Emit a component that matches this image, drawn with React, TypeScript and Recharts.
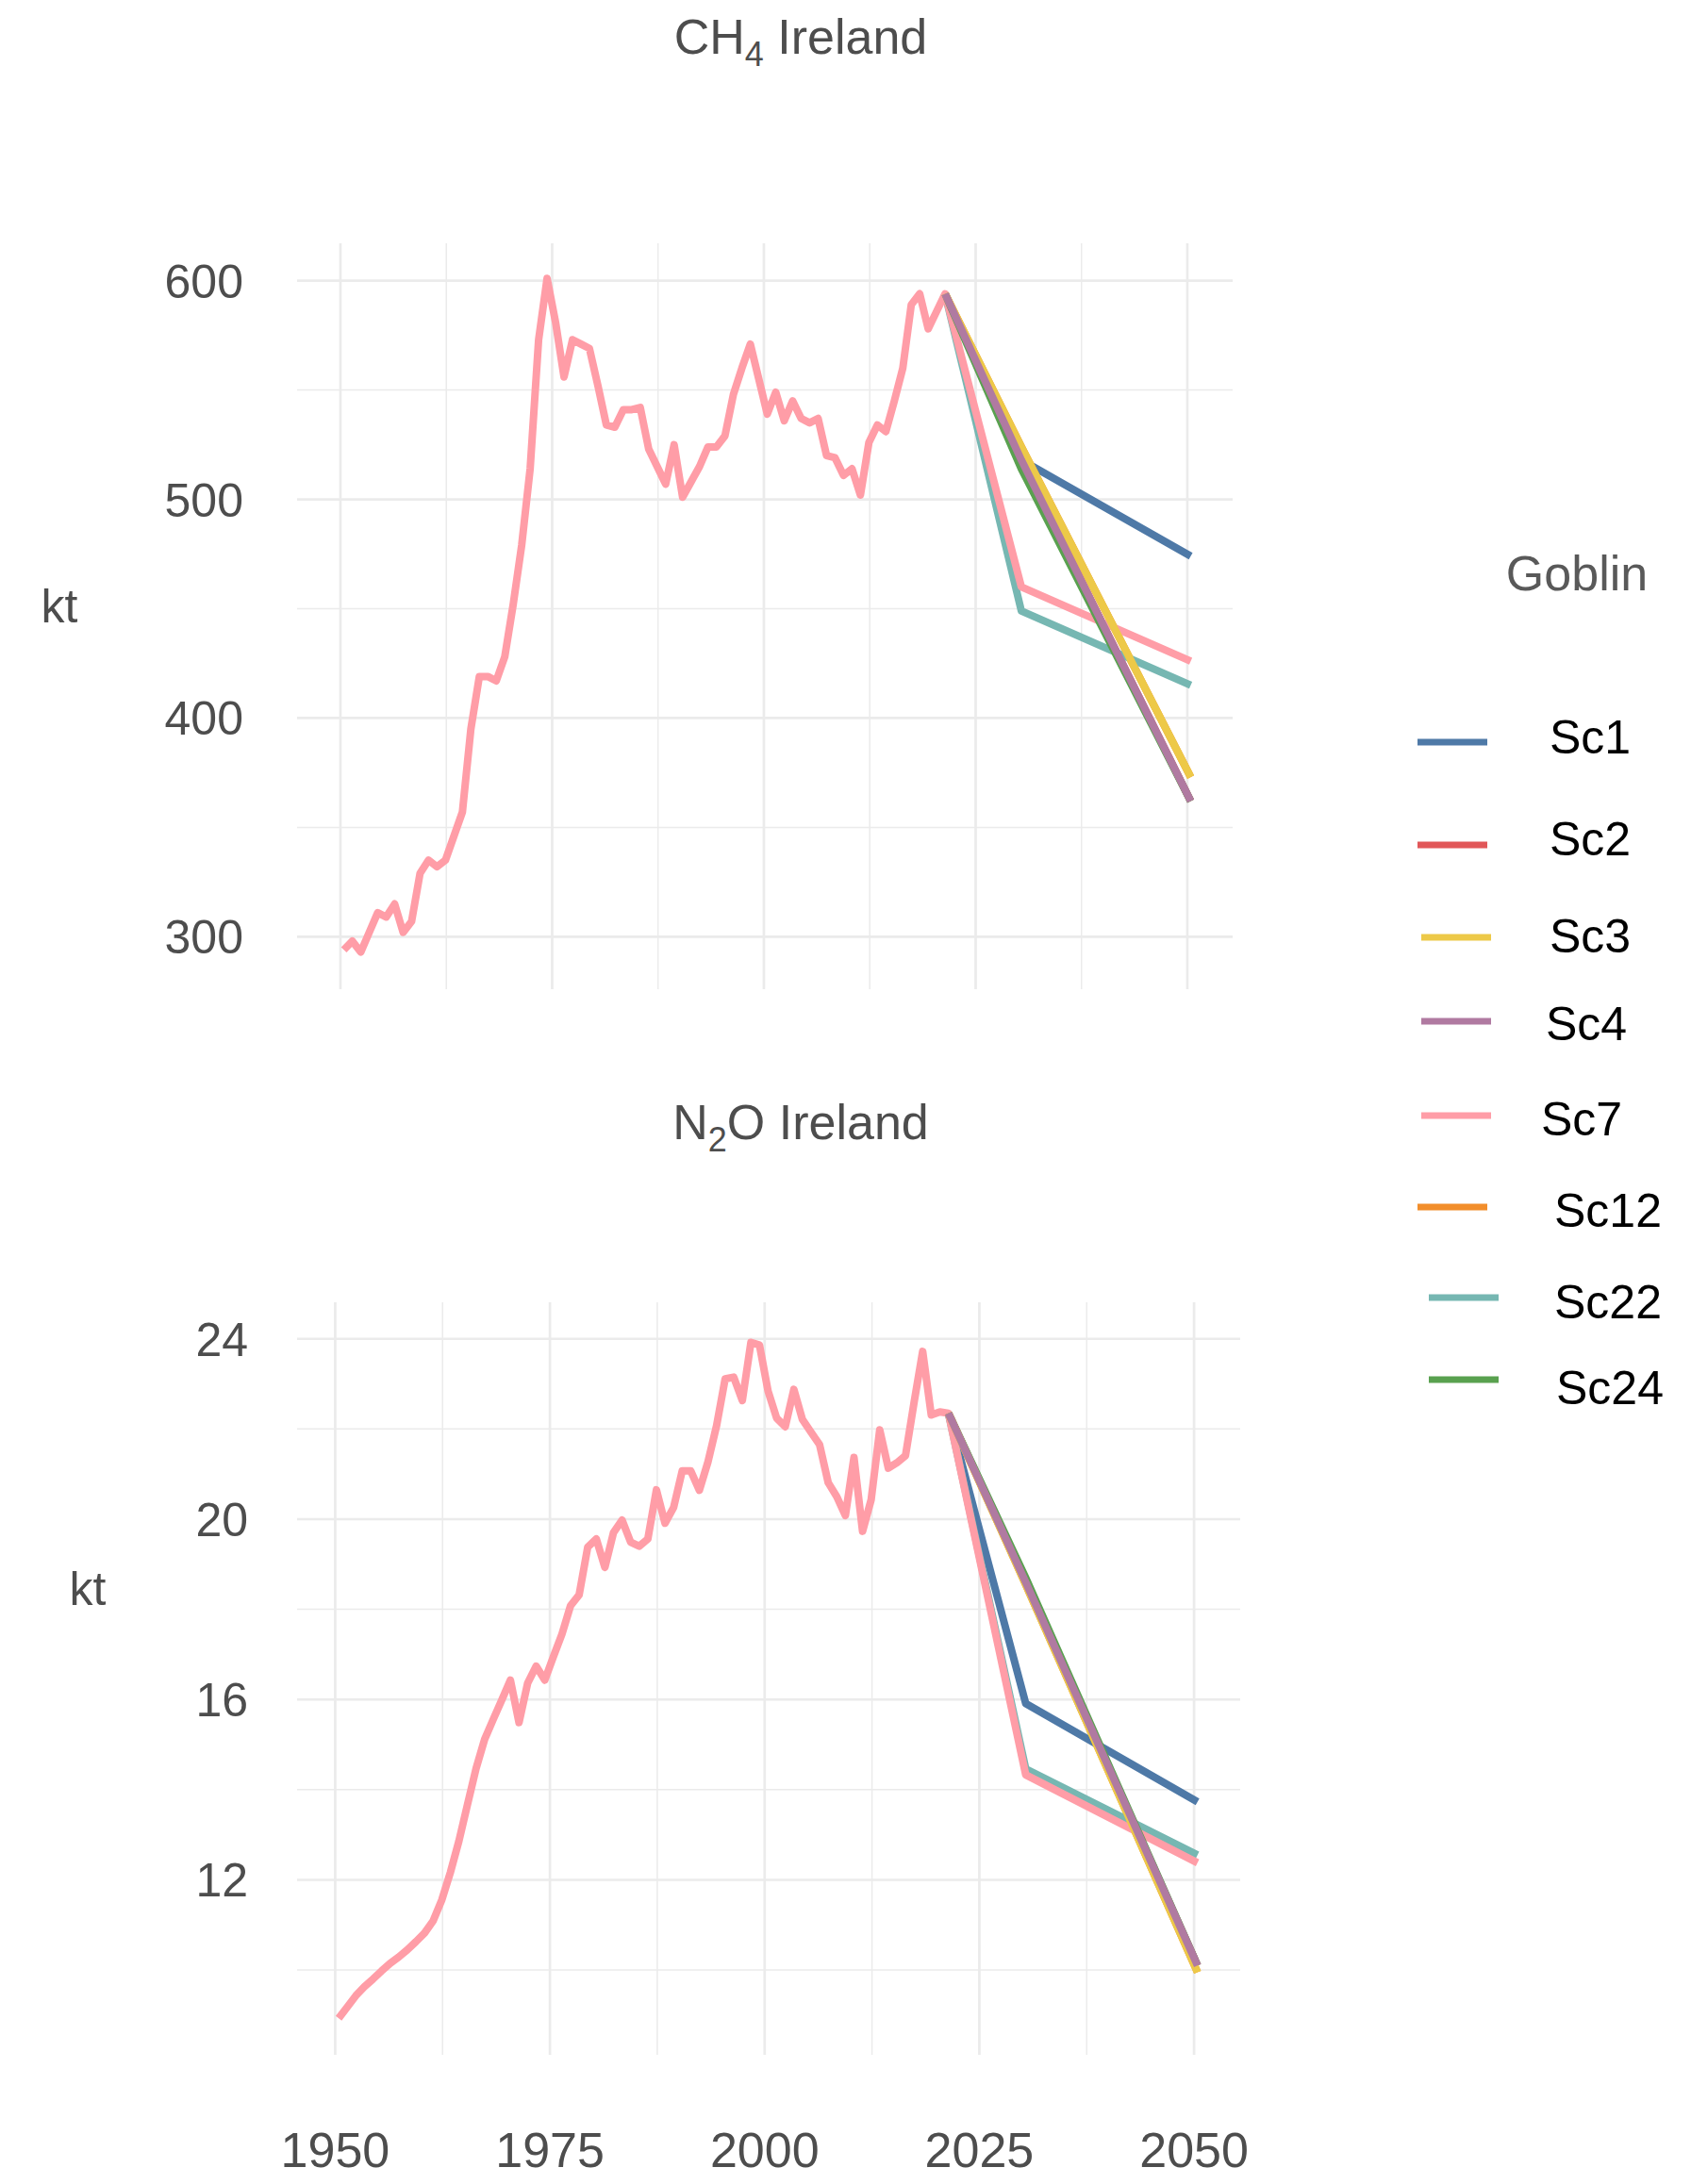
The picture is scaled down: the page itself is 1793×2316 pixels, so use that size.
import React from 'react'
import { LineChart, Line, XAxis, YAxis, CartesianGrid } from 'recharts'

// annual inventory 1950-2021, then scenario points in 2030 and 2050
const firstYear = 1950
const projYears = [2030, 2050]
// points sit at mid-year on the time axis
const MID_YEAR = 0.4

const scenarios = ['Sc1', 'Sc2', 'Sc3', 'Sc4', 'Sc7', 'Sc12', 'Sc22', 'Sc24']
const colors: Record<string, string> = {
  Sc1: '#4E79A7', Sc2: '#E15759', Sc3: '#EDC948', Sc4: '#B07AA1',
  Sc7: '#FF9DA7', Sc12: '#F28E2B', Sc22: '#76B7B2', Sc24: '#59A14F',
}
// drawing order (last one on top)
const drawOrder = ['Sc1', 'Sc2', 'Sc12', 'Sc22', 'Sc7', 'Sc24', 'Sc3', 'Sc4']

const ch4Hist = [
  294, 298, 293, 302, 311, 309, 315, 302, 307, 329,
  335, 332, 335, 346, 357, 395, 419, 419, 417, 428,
  452, 479, 514, 573, 601, 581, 556, 573, 571, 569,
  552, 534, 533, 541, 541, 542, 523, 515, 507, 525,
  501, 508, 515, 524, 524, 529, 548, 560, 571, 555,
  539, 549, 536, 545, 537, 535, 537, 520, 519, 511,
  514, 502, 526, 534, 531, 545, 560, 589, 594, 578,
  586, 594,
]
const ch4Proj: Record<string, number[]> = {
  Sc1: [518, 474], Sc2: [518, 362], Sc3: [524, 373], Sc4: [518, 362],
  Sc7: [460, 426], Sc12: [524, 373], Sc22: [449, 415], Sc24: [514, 362],
}

const n2oHist = [
  8.93, 9.18, 9.43, 9.63, 9.8, 9.98, 10.15, 10.29, 10.45, 10.63,
  10.82, 11.09, 11.55, 12.16, 12.86, 13.67, 14.47, 15.12, 15.56, 15.99,
  16.43, 15.49, 16.36, 16.74, 16.43, 16.95, 17.45, 18.08, 18.32, 19.38,
  19.56, 18.93, 19.7, 19.98, 19.49, 19.4, 19.56, 20.65, 19.91, 20.26,
  21.07, 21.07, 20.64, 21.27, 22.07, 23.11, 23.15, 22.63, 23.92, 23.86,
  22.84, 22.24, 22.05, 22.88, 22.21, 21.93, 21.65, 20.81, 20.5, 20.08,
  21.37, 19.73, 20.43, 21.98, 21.13, 21.25, 21.41, 22.59, 23.72, 22.31,
  22.38, 22.35,
]
const n2oProj: Record<string, number[]> = {
  Sc1: [15.91, 13.73], Sc2: [18.6, 10.1], Sc3: [18.55, 9.95], Sc4: [18.6, 10.1],
  Sc7: [14.33, 12.38], Sc12: [18.55, 9.95], Sc22: [14.46, 12.55], Sc24: [18.7, 10.1],
}

const xTicks = [1950, 1975, 2000, 2025, 2050]
const xMinor = [1962.5, 1987.5, 2012.5, 2037.5]
const ch4Ticks = [300, 400, 500, 600]
const ch4Minor = [350, 450, 550]
const n2oTicks = [12, 16, 20, 24]
const n2oMinor = [10, 14, 18, 22]

const FONT = '"Liberation Sans", Arial, Helvetica, sans-serif'
const GRID = '#EBEBEB'
const TXT = '#4D4D4D'

function buildRows(hist: number[], proj: Record<string, number[]>) {
  const rows: Record<string, number | null>[] = hist.map((v, i) => ({ t: firstYear + i + MID_YEAR, Sc7: v }))
  const last = rows[rows.length - 1]
  scenarios.forEach(s => { last[s] = hist[hist.length - 1] })
  projYears.forEach((y, j) => {
    const r: Record<string, number | null> = { t: y + MID_YEAR }
    scenarios.forEach(s => { r[s] = proj[s][j] })
    rows.push(r)
  })
  return rows
}

const ch4Rows = buildRows(ch4Hist, ch4Proj)
const n2oRows = buildRows(n2oHist, n2oProj)

const legendRows = [
  { s: 'Sc1', ky: 787, ty: 799, kx: 1503, tx: 1643 },
  { s: 'Sc2', ky: 896, ty: 907, kx: 1503, tx: 1643 },
  { s: 'Sc3', ky: 994, ty: 1010, kx: 1507, tx: 1643 },
  { s: 'Sc4', ky: 1083, ty: 1103, kx: 1507, tx: 1639 },
  { s: 'Sc7', ky: 1183, ty: 1204, kx: 1507, tx: 1634 },
  { s: 'Sc12', ky: 1280, ty: 1301, kx: 1503, tx: 1648 },
  { s: 'Sc22', ky: 1376, ty: 1398, kx: 1515, tx: 1648 },
  { s: 'Sc24', ky: 1463, ty: 1489, kx: 1515, tx: 1650 },
]

function Panel(props: any) {
  const { rows, xDomain, yDomain, yTicks, yMinor, top, width, height, margin, xHeight, showX, yLabelShift } = props
  const yTick = ({ x, y, payload }: any) => (
    <text x={x - yLabelShift} y={y} dy="0.36em" textAnchor="end" fill={TXT} fontSize={50} fontFamily={FONT}>
      {payload.value}
    </text>
  )
  const xTick = ({ x, y, payload }: any) =>
    showX ? (
      <text x={x} y={y + 119} textAnchor="middle" fill={TXT} fontSize={52} fontFamily={FONT}>
        {payload.value}
      </text>
    ) : <g />
  return (
    <div style={{ position: 'absolute', left: 0, top }}>
      <LineChart width={width} height={height} data={rows} margin={margin}>
        <CartesianGrid stroke={GRID} strokeWidth={1.5} horizontalValues={yMinor} verticalValues={xMinor} />
        <CartesianGrid stroke={GRID} strokeWidth={2.7} horizontalValues={yTicks} verticalValues={xTicks} />
        <XAxis type="number" dataKey="t" domain={xDomain} ticks={xTicks} allowDataOverflow
          axisLine={false} tickLine={false} tickSize={0} tickMargin={0} height={xHeight}
          tick={xTick} />
        <YAxis type="number" domain={yDomain} ticks={yTicks} allowDataOverflow
          axisLine={false} tickLine={false} tickSize={0} tickMargin={0} width={315} tick={yTick} />
        {drawOrder.map(s => (
          <Line key={s} type="linear" dataKey={s} stroke={colors[s]} strokeWidth={8}
            strokeLinejoin="round" dot={false} activeDot={false} isAnimationActive={false} />
        ))}
      </LineChart>
    </div>
  )
}

export default function App() {
  return (
    <div style={{ position: 'absolute', left: 0, top: 0, width: 1793, height: 2316, background: '#fff', fontFamily: FONT }}>
      <Panel rows={ch4Rows} xDomain={[1944.88, 2055.35]} yDomain={[276.0, 617.1]}
        yTicks={ch4Ticks} yMinor={ch4Minor} top={0} width={1320} height={1100}
        margin={{ top: 258, right: 13, bottom: 31, left: 0 }} xHeight={20} showX={false} yLabelShift={57} />
      <Panel rows={n2oRows} xDomain={[1945.56, 2055.37]} yDomain={[8.12, 24.81]}
        yTicks={n2oTicks} yMinor={n2oMinor} top={1100} width={1380} height={1216}
        margin={{ top: 281, right: 65, bottom: 0, left: 0 }} xHeight={137} showX={true} yLabelShift={52} />
      <svg width={1793} height={2316} style={{ position: 'absolute', left: 0, top: 0, pointerEvents: 'none' }}>
        <text x={849} y={57} textAnchor="middle" fontSize={52} fill={TXT} fontFamily={FONT}>
          CH<tspan fontSize={36} dy={13}>4</tspan><tspan dy={-13}> Ireland</tspan>
        </text>
        <text x={849} y={1208} textAnchor="middle" fontSize={52} fill={TXT} fontFamily={FONT}>
          N<tspan fontSize={36} dy={13}>2</tspan><tspan dy={-13}>O Ireland</tspan>
        </text>
        <text x={63} y={660} textAnchor="middle" fontSize={50} fill={TXT} fontFamily={FONT}>kt</text>
        <text x={93} y={1702} textAnchor="middle" fontSize={50} fill={TXT} fontFamily={FONT}>kt</text>
        <text x={1672} y={626} textAnchor="middle" fontSize={52} fill="#595959" fontFamily={FONT}>Goblin</text>
        {legendRows.map(r => (
          <g key={r.s}>
            <line x1={r.kx} x2={r.kx + 74} y1={r.ky} y2={r.ky} stroke={colors[r.s]} strokeWidth={7} />
            <text x={r.tx} y={r.ty} fontSize={50} fill="#000" fontFamily={FONT}>{r.s}</text>
          </g>
        ))}
      </svg>
    </div>
  )
}
